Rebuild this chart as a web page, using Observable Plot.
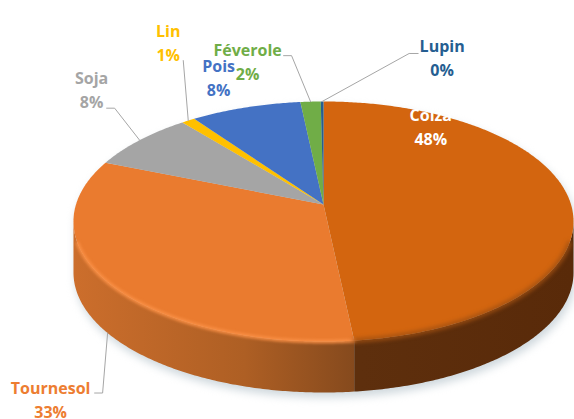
<!DOCTYPE html>
<html>
<head>
<meta charset="utf-8">
<style>html,body{margin:0;padding:0;background:#fff}svg{display:block}</style>
<script src="https://cdn.jsdelivr.net/npm/d3@7"></script>
<script src="https://cdn.jsdelivr.net/npm/@observablehq/plot@0.6"></script>
</head>
<body>
<div id="chart"></div>
<script>
// Data
const categories = ["Colza", "Tournesol", "Soja", "Lin", "Pois", "Féverole", "Lupin"];
const shares = [48.3, 32.8, 8.0, 1.0, 8.2, 1.5, 0.2];

// Styles
const sliceColors = ["#D3650F", "#EA7B2F", "#A5A5A5", "#FFC000", "#4472C4", "#70AD47", "#255E91"];
const labelColors = ["#FFFFFF", "#ED7D31", "#A5A5A5", "#FFC000", "#4472C4", "#70AD47", "#255E91"];

// Label layout, as offsets from the point where each slice's middle meets the rim
const labelOffsets = [[-138, -73], [-57, 65], [-48, -52], [-20, -79], [-27, -31], [-63, -41], [120, -45]];
const elbowOffsets = [null, [-5, 60], [-25, -32], [-5, -60], null, [-19, -46], [87, -48]];
const tailLengths = [0, 8, 8, 0, 0, 8, 9];

// 3D disc projection
const cx = 323, cy = 204, rx = 247.5, ry = 117.6, persp = 0.1417, depth = 51;
const project = (a, drop = 0) => {
  const u = Math.sin(a), v = Math.cos(a), w = 1 + persp * v;
  return {x: cx + rx * u / w, y: cy - ry * v / w + drop};
};
const arc = (a0, a1, drop = 0) => {
  const n = Math.max(2, Math.ceil(Math.abs(a1 - a0) / 0.01));
  return d3.range(n + 1).map(i => project(a0 + (a1 - a0) * i / n, drop));
};
const slices = d3.pie().sort(null)(shares).map((s, i) => ({
  name: categories[i], start: s.startAngle, end: s.endAngle, mid: (s.startAngle + s.endAngle) / 2, value: s.value
}));
const aRight = Math.acos(-persp), aLeft = 2 * Math.PI - aRight;

const topRows = slices.flatMap(s =>
  [{x: cx, y: cy}, ...arc(s.start, s.end)].map(p => ({...p, name: s.name})));
const wallRows = slices.flatMap(s => {
  const a0 = Math.max(s.start, aRight), a1 = Math.min(s.end, aLeft);
  return a1 > a0 ? [...arc(a0, a1), ...arc(a1, a0, depth)].map(p => ({...p, name: s.name})) : [];
});
const silhouette = [...arc(aRight, aLeft, depth), ...arc(aLeft, aRight + 2 * Math.PI)];
const rimRows = slices.flatMap(s => {
  const a0 = Math.max(s.start, aRight), a1 = Math.min(s.end, aLeft);
  return a1 > a0 ? arc(a0, a1).map(p => ({...p, name: s.name})) : [];
}).filter(p => p.x > 77 && p.x < 569);

const labels = slices.map((s, i) => {
  const drop = s.mid > aRight && s.mid < aLeft ? depth : 0;
  const p = project(s.mid, drop);
  return {
    name: s.name, x: p.x + labelOffsets[i][0], y: p.y + labelOffsets[i][1],
    text: s.name + "\n" + d3.format(".0%")(s.value / 100)
  };
});
const leaders = slices.flatMap((s, i) => {
  if (!elbowOffsets[i]) return [];
  const drop = s.mid > aRight && s.mid < aLeft ? depth : 0;
  const p = project(s.mid, drop);
  const e = {x: p.x + elbowOffsets[i][0], y: p.y + elbowOffsets[i][1]};
  const side = elbowOffsets[i][0] > 0 ? 1 : -1;
  const pts = tailLengths[i] ? [p, e, {x: e.x + side * tailLengths[i], y: e.y}] : [p, e];
  return pts.map(q => ({...q, name: s.name}));
});

const gradients = () => {
  const defs = d3.create("svg:defs");
  const add = (id, x1, x2, stops) => {
    const g = defs.append("linearGradient").attr("id", id).attr("gradientUnits", "userSpaceOnUse")
      .attr("x1", x1).attr("x2", x2).attr("y1", 0).attr("y2", 0);
    stops.forEach(([o, c]) => g.append("stop").attr("offset", o).attr("stop-color", c));
  };
  add("wallA", 360, 572, [[0, "#5E2F0D"], [1, "#592A09"]]);
  add("wallB", 73, 358, [[0, "#CC6E2C"], [0.6, "#AE5F24"], [1, "#84491D"]]);
  return defs.node();
};

const plot = Plot.plot({
  width: 574, height: 419, margin: 0,
  x: {domain: [0, 574], range: [0, 574], axis: null},
  y: {domain: [0, 419], range: [0, 419], axis: null},
  color: {domain: categories, range: sliceColors},
  marks: [
    gradients,
    Plot.line(silhouette.map(p => ({x: p.x + 2, y: p.y + 5})), {x: "x", y: "y", fill: "#CFD8DD", stroke: "none", imageFilter: "blur(4px)", curve: "linear"}),
    Plot.line(wallRows.filter(d => d.name === "Tournesol"), {x: "x", y: "y", fill: "url(#wallB)", stroke: "none", curve: "linear"}),
    Plot.line(wallRows.filter(d => d.name === "Colza"), {x: "x", y: "y", fill: "url(#wallA)", stroke: "none", curve: "linear"}),
    Plot.line(topRows, {x: "x", y: "y", z: "name", fill: "name", stroke: "none", curve: "linear"}),
    Plot.line(rimRows.filter(d => d.name === "Tournesol"), {x: "x", y: "y", stroke: "#F98F45", strokeWidth: 3.5, imageFilter: "blur(1.5px)", curve: "linear"}),
    Plot.line(rimRows.filter(d => d.name === "Colza"), {x: "x", y: "y", stroke: "#A05012", strokeWidth: 4, imageFilter: "blur(2px)", curve: "linear"}),
    Plot.line(leaders, {x: "x", y: "y", z: "name", stroke: "#A6A6A6", strokeWidth: 1, curve: "linear"}),
    Plot.text(labels, {
      x: "x", y: "y", text: "text", fill: d => labelColors[categories.indexOf(d.name)],
      fontSize: 16, fontWeight: 700, fontFamily: "Open Sans", lineHeight: 1.5, lineAnchor: "middle", textAnchor: "middle"
    })
  ]
});
document.getElementById("chart").append(plot);
</script>
</body>
</html>
